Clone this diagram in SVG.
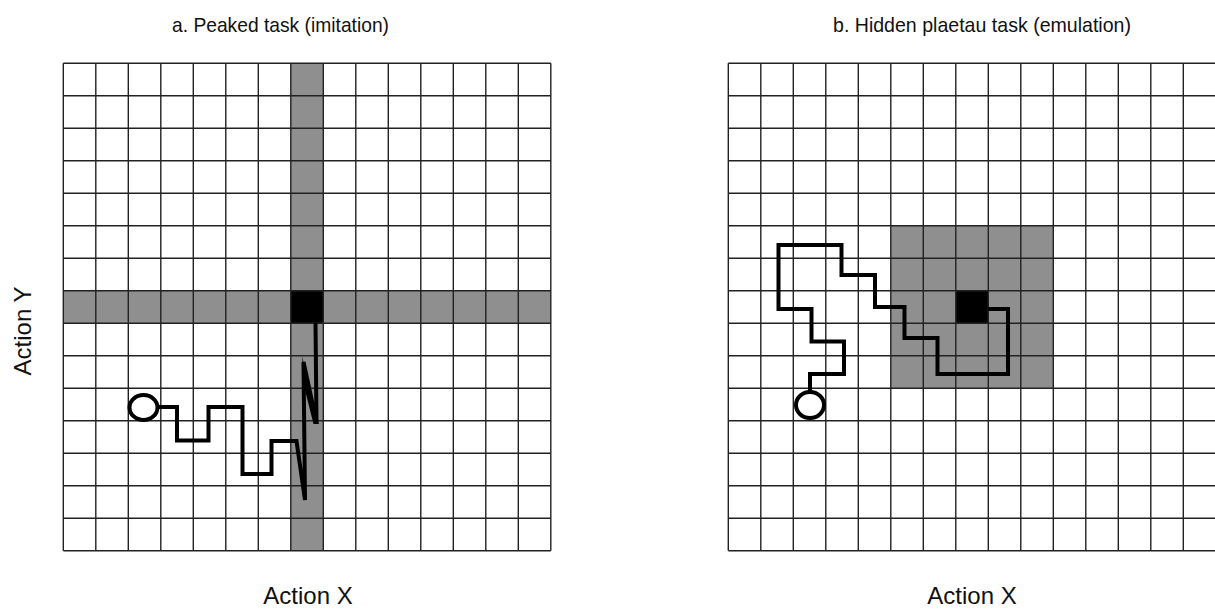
<svg xmlns="http://www.w3.org/2000/svg" width="1215" height="610" viewBox="0 0 1215 610">
<style>
.lbl{font-family:"Liberation Sans",Arial,sans-serif;fill:#111;text-anchor:middle}
.ttl{font-size:21px}
.ax{font-size:24px}
.gray{fill:#8f8f8f}
.peak{fill:#000}
.grid{fill:none;stroke:#222;stroke-width:1.4}
.trail{fill:none;stroke:#000;stroke-width:4;stroke-linejoin:miter;stroke-miterlimit:4}
.start{fill:#fff;stroke:#000;stroke-width:4}
</style>
<defs>
<path id="gridlines" class="grid" d="M0 0V487.5M32.5 0V487.5M65 0V487.5M97.5 0V487.5M130 0V487.5M162.5 0V487.5M195 0V487.5M227.5 0V487.5M260 0V487.5M292.5 0V487.5M325 0V487.5M357.5 0V487.5M390 0V487.5M422.5 0V487.5M455 0V487.5M487.5 0V487.5M0 0H487.5M0 32.5H487.5M0 65H487.5M0 97.5H487.5M0 130H487.5M0 162.5H487.5M0 195H487.5M0 227.5H487.5M0 260H487.5M0 292.5H487.5M0 325H487.5M0 357.5H487.5M0 390H487.5M0 422.5H487.5M0 455H487.5M0 487.5H487.5"/>
</defs>
<rect width="1215" height="610" fill="#fff"/>
<g id="panel-a">
<text class="lbl ttl" x="280.5" y="32" textLength="217" lengthAdjust="spacingAndGlyphs">a. Peaked task (imitation)</text>
<g transform="translate(63.3,63.3)">
<rect class="gray" x="227.5" y="0" width="32.5" height="487.5"/>
<rect class="gray" x="0" y="227.5" width="487.5" height="32.5"/>
<rect class="peak" x="227.5" y="227.5" width="32.5" height="32.5"/>
<use href="#gridlines"/>
</g>
<polyline class="trail" points="157.5,407 177,407 177,440.5 208.5,440.5 208.5,407 242.5,407 242.5,474 271.5,474 271.5,441 296.5,441 305,500 303.5,362 316.5,422 315.5,323"/>
<polygon class="peak" points="302,356 319,424 313.5,424 305.5,392"/>
<ellipse class="start" cx="143.5" cy="407.5" rx="14" ry="12.5"/>
<text class="lbl ax" x="308" y="604">Action X</text>
<text class="lbl ax" transform="translate(31,331) rotate(-90)">Action Y</text>
</g>
<g id="panel-b">
<text class="lbl ttl" x="982" y="32" textLength="298" lengthAdjust="spacingAndGlyphs">b. Hidden plaetau task (emulation)</text>
<g transform="translate(728.3,63.3)">
<rect class="gray" x="162.5" y="162.5" width="162.5" height="162.5"/>
<rect class="peak" x="227.5" y="227.5" width="32.5" height="32.5"/>
<use href="#gridlines"/>
</g>
<polyline class="trail" points="810,392 810,374 844,374 844,341.5 811.5,341.5 811.5,309 778.5,309 778.5,245 841.5,245 841.5,275 875,275 875,307 904.5,307 904.5,338 937.5,338 937.5,374 1008,374 1008,309 988,309"/>
<ellipse class="start" cx="810" cy="405" rx="14" ry="13"/>
<text class="lbl ax" x="972" y="604">Action X</text>
</g>
</svg>
